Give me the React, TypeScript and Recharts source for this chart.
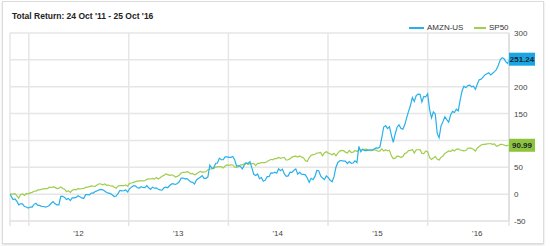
import React from 'react';
import { LineChart, Line, XAxis, YAxis, CartesianGrid, ReferenceDot } from 'recharts';

const START_DATE = '2011-10-24';
const FIRST_WEEK = '2011-11-04';
const END_DATE = '2016-10-25';
const YEAR_STARTS = ['2012-01-01', '2013-01-01', '2014-01-01', '2015-01-01', '2016-01-01'];
const LABEL_DATES = ['2012-07-01', '2013-07-01', '2014-07-01', '2015-07-01', '2016-07-01'];
const YEAR_LABELS = ["'12", "'13", "'14", "'15", "'16"];
const Y_TICKS = [-50, 0, 50, 100, 150, 200, 250, 300];
const SERIES_NAMES = ['AMZN-US', 'SP50'];

const AMZN = [
  0, -10, -9, -13, -20, -18, -18, -23, -24, -26,
  -24, -24, -19, -17, -21, -21, -23, -23, -24, -23,
  -21, -17, -14, -18, -20, -20, -4, -4, -6, -10,
  -8, -12, -7, -7, -6, -3, -5, -7, -8, -1,
  -1, -1.5, 2, 2, 5, 6, 8, 9, 8, 6,
  3, 2, 1, -1.5, -4.5, -3.6, 1.5, 7, 6, 6.6,
  8, 4, 10, 13, 15.5, 15.5, 12.5, 11, 14, 12.5,
  12, 16, 12, 9, 13, 11, 11.7, 9, 8, 7.5,
  11.7, 13, 12, 16, 19, 19, 18, 20, 23, 30,
  30, 28.6, 29, 26, 22.7, 22, 19, 26.5, 29, 31.6,
  34.6, 29.5, 29.5, 32, 54, 48.6, 48.6, 57, 58, 67,
  64, 64, 69.4, 69.4, 68.6, 68.6, 70, 64, 52, 53,
  51.6, 47, 54, 58, 57, 60.5, 49, 37, 34.6, 37.6,
  28.7, 30.8, 24, 26, 32.5, 32.5, 39.7, 39, 41, 39,
  47, 43.5, 46.5, 37.6, 33, 34, 41, 40.6, 44.4, 47,
  37, 40.6, 37, 36.7, 35.9, 30, 21.9, 29.5, 27, 32.5,
  44, 43.5, 34, 30, 27, 33.7, 30.8, 25.7, 23, 32.5,
  50, 59, 62, 62.6, 61.4, 61.4, 57, 60.5, 57.5, 58,
  62, 59, 89, 79, 84, 81, 81, 82, 82.6, 82,
  84, 86, 85.5, 87.7, 105, 125, 127.6, 122, 125.5, 110,
  96.6, 112, 124.6, 129, 122.5, 121, 129, 142, 154, 165,
  180, 172.6, 183.6, 186, 185.8, 171.8, 182, 181, 187, 158,
  142, 153, 149, 113, 105, 127, 135, 144, 138.6, 134,
  147.5, 154, 152, 158, 155, 175, 192, 201, 198, 202,
  203, 200, 201, 195, 205, 213, 214, 218, 222, 224,
  226, 222, 225, 228, 232, 240, 250, 254, 252, 246,
  243, 251.24,
];

const SP50 = [
  0, 0, 0.9, -2.9, -7.4, -0.6, 0.4, -2.5, 1.2, 0.7,
  2.4, 3.3, 5.4, 5.6, 7.9, 7.8, 9.4, 9.8, 10.1, 10.3,
  13.0, 12.4, 13.4, 12.6, 10.4, 11.1, 13.2, 10.5, 9.3, 4.6,
  6.5, 3.3, 7.2, 8.7, 8.1, 10.3, 9.7, 10.0, 10.6, 12.5,
  12.9, 14.1, 15.2, 14.7, 14.4, 17.0, 19.3, 18.9, 17.4, 19.1,
  16.5, 16.9, 15.2, 15.5, 12.7, 11.1, 15.2, 15.8, 16.0, 15.7,
  17.1, 14.9, 20.2, 20.7, 21.9, 23.4, 24.2, 24.7, 24.9, 24.6,
  24.9, 27.6, 28.5, 28.2, 29.3, 28.0, 30.9, 28.3, 30.6, 33.3,
  34.9, 37.8, 36.4, 34.9, 36.0, 34.6, 31.9, 33.1, 35.3, 39.3,
  40.4, 40.4, 41.9, 40.5, 37.6, 38.4, 35.8, 37.7, 40.5, 42.4,
  41.0, 40.9, 42.0, 45.6, 46.8, 47.1, 47.9, 50.3, 50.8, 51.1,
  51.1, 48.6, 52.3, 54.3, 53.5, 54.5, 54.3, 50.3, 49.7, 51.0,
  54.5, 54.4, 56.4, 58.1, 55.0, 57.2, 56.5, 57.2, 53.1, 57.3,
  57.3, 58.8, 58.7, 58.6, 60.6, 62.8, 64.9, 63.9, 66.2, 66.2,
  68.3, 66.8, 67.8, 67.9, 63.5, 64.0, 66.1, 69.0, 70.4, 70.8,
  69.0, 71.2, 68.9, 67.7, 62.5, 60.9, 67.6, 72.3, 73.6, 74.2,
  76.4, 76.9, 77.5, 71.4, 77.3, 78.9, 76.4, 75.2, 73.2, 76.0,
  71.3, 76.5, 80.2, 81.4, 80.9, 78.2, 76.7, 81.5, 77.5, 78.1,
  81.2, 79.5, 82.6, 81.9, 82.7, 83.4, 83.7, 82.2, 80.9, 81.2,
  82.7, 81.9, 79.9, 80.0, 84.3, 80.3, 82.6, 80.4, 81.7, 71.3,
  66, 67.1, 70.6, 70.4, 68.1, 69.9, 75.5, 77.2, 81.0, 81.4,
  83.2, 76.6, 82.5, 82.6, 82.9, 75.9, 75.5, 80.4, 79.0, 68.3,
  64.7, 67.1, 70.2, 65.0, 63.7, 68.5, 71.1, 75.7, 77.8, 80.3,
  79.1, 82.5, 80.4, 83.4, 84.4, 82.1, 81.5, 80.7, 81.2, 85.4,
  85.5, 85.3, 83.1, 80.2, 86.1, 88.6, 91.5, 92.7, 92.6, 93.6,
  93.8, 93.9, 92.6, 93.6, 89.1, 90.2, 92.6, 92.9, 91.6, 89.9,
  90.7, 90.99,
];

const BLUE = '#27b1ea';
const GREEN = '#9fcd4c';
const BLUE_BOX = '#1aa6e2';
const GREEN_BOX = '#8dc43c';
const FONT = '"Liberation Sans", Arial, sans-serif';
const DAY = 86400000;

const ts = (s: string) => new Date(s + 'T00:00:00Z').getTime();
const T0 = ts(START_DATE);
const T1 = ts(END_DATE);
const TW = ts(FIRST_WEEK);
const GRID_TS = [T0, ...YEAR_STARTS.map(ts), T1];
const LABEL_TS = LABEL_DATES.map(ts);

const LAST_A = AMZN[AMZN.length - 1];
const LAST_S = SP50[SP50.length - 1];

const data = AMZN.map((v, i) => {
  let t: number;
  if (i === 0) t = T0;
  else if (i === AMZN.length - 1) t = T1;
  else t = TW + (i - 1) * 7 * DAY;
  return { t, amzn: v, sp: SP50[i] };
});

const fmtLabel = (v: number) => {
  const k = LABEL_TS.indexOf(v);
  return k >= 0 ? YEAR_LABELS[k] : '';
};

// y tick labels that sit under a last-value box are covered by it in the reference
const YTick = (props: any) => {
  const { x, y, payload } = props;
  const v = payload.value;
  if (Math.abs(v - LAST_A) < 12 || Math.abs(v - LAST_S) < 12) return null;
  return (
    <text x={x} y={y} dy={3} textAnchor="start" fontSize={8} fill="#444" fontFamily={FONT}>
      {v}
    </text>
  );
};

const ValueBox = (props: any) => {
  const { cx, cy, fill, text } = props;
  if (cx == null || cy == null) return null;
  return (
    <g>
      <rect x={cx} y={cy - 6.5} width={26} height={13} fill={fill} />
      <text x={cx + 13} y={cy + 3} textAnchor="middle" fontSize={8} fontWeight="bold" fill="#1b2430" fontFamily={FONT}>
        {text}
      </text>
    </g>
  );
};

export default function App() {
  return (
    <div style={{ position: 'absolute', left: 0, top: 0, width: 550, height: 246, background: '#fff', fontFamily: FONT }}>
      <div style={{ position: 'absolute', left: 2, top: 1, width: 540, height: 241, border: '1px solid #dcdcdc', boxShadow: '0 1px 2px rgba(0,0,0,0.15)' }} />
      <div style={{ position: 'absolute', left: 12, top: 12, fontSize: 8.5, lineHeight: '8.5px', fontWeight: 'bold', color: '#222', whiteSpace: 'nowrap' }}>
        Total Return: 24 Oct '11 - 25 Oct '16
      </div>
      <div style={{ position: 'absolute', left: 409, top: 27, width: 15, height: 1.5, background: BLUE }} />
      <div style={{ position: 'absolute', left: 427, top: 24, fontSize: 8, lineHeight: '8px', color: '#333', whiteSpace: 'nowrap' }}>{SERIES_NAMES[0]}</div>
      <div style={{ position: 'absolute', left: 474, top: 27, width: 12, height: 1.5, background: GREEN }} />
      <div style={{ position: 'absolute', left: 489, top: 24, fontSize: 8, lineHeight: '8px', color: '#333', whiteSpace: 'nowrap' }}>{SERIES_NAMES[1]}</div>
      <div style={{ position: 'absolute', left: 0, top: 0 }}>
        <LineChart width={550} height={246} data={data} margin={{ top: 33, right: 0, bottom: 0, left: 10 }}>
          <CartesianGrid xAxisId="grid" yAxisId="r" stroke="#e6e6e6" strokeWidth={1.5} />
          <XAxis
            xAxisId="grid"
            dataKey="t"
            type="number"
            domain={[T0, T1]}
            ticks={GRID_TS}
            interval={0}
            tickFormatter={() => ''}
            tickSize={5}
            tickLine={{ stroke: '#e3e3e3', strokeWidth: 1.5 }}
            axisLine={{ stroke: '#e3e3e3' }}
            height={5}
            allowDataOverflow
          />
          <XAxis
            xAxisId="lab"
            dataKey="t"
            type="number"
            domain={[T0, T1]}
            ticks={LABEL_TS}
            interval={0}
            tickFormatter={fmtLabel}
            tickLine={false}
            axisLine={false}
            tickSize={0}
            tickMargin={4}
            height={20}
            tick={{ fontSize: 8, fill: '#444', fontFamily: FONT }}
            allowDataOverflow
          />
          <YAxis
            yAxisId="r"
            orientation="right"
            type="number"
            domain={[-50, 300]}
            ticks={Y_TICKS}
            interval={0}
            width={41}
            tickLine={false}
            tickSize={0}
            tickMargin={5}
            axisLine={{ stroke: '#d6d6d6' }}
            tick={<YTick />}
          />
          <Line xAxisId="grid" yAxisId="r" type="linear" dataKey="sp" stroke={GREEN} strokeWidth={1.2} dot={false} activeDot={false} isAnimationActive={false} />
          <Line xAxisId="grid" yAxisId="r" type="linear" dataKey="amzn" stroke={BLUE} strokeWidth={1.2} dot={false} activeDot={false} isAnimationActive={false} />
          <ReferenceDot xAxisId="grid" yAxisId="r" x={T1} y={LAST_A} r={0} shape={(p: any) => <ValueBox {...p} fill={BLUE_BOX} text={LAST_A.toFixed(2)} />} />
          <ReferenceDot xAxisId="grid" yAxisId="r" x={T1} y={LAST_S} r={0} shape={(p: any) => <ValueBox {...p} fill={GREEN_BOX} text={LAST_S.toFixed(2)} />} />
        </LineChart>
      </div>
    </div>
  );
}
